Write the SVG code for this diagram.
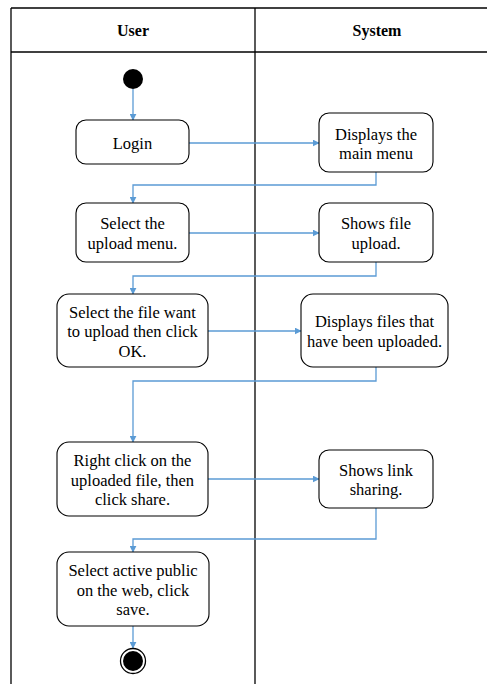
<svg xmlns="http://www.w3.org/2000/svg" width="487" height="684" viewBox="0 0 487 684">
<defs>
<style>
.lane{stroke:#000;stroke-width:1.3;fill:none}
.hdr{font-family:'Liberation Serif','Times New Roman',serif;font-weight:bold;font-size:16px;text-anchor:middle;fill:#000}
.box{fill:#fff;stroke:#000;stroke-width:1.1}
.t{font-family:'Liberation Serif','Times New Roman',serif;font-size:16.5px;text-anchor:middle;fill:#000}
.c{stroke:#5B9BD5;stroke-width:1.3;fill:none;marker-end:url(#ah)}
</style>
<marker id="ah" viewBox="0 0 10 10" refX="9" refY="5" markerWidth="7" markerHeight="7" markerUnits="userSpaceOnUse" orient="auto">
<path d="M0,0 L10,5 L0,10 z" fill="#5B9BD5"/>
</marker>
</defs>
<rect width="487" height="684" fill="#fff"/>
<g id="swimlanes">
<line class="lane" x1="11" y1="8" x2="487" y2="8"/>
<line class="lane" x1="11" y1="52" x2="487" y2="52" stroke="#444"/>
<line class="lane" x1="11" y1="8" x2="11" y2="684"/>
<line class="lane" x1="255" y1="8" x2="255" y2="684"/>
<text class="hdr" x="133" y="35.5">User</text>
<text class="hdr" x="377" y="35.5">System</text>
</g>
<g id="connectors">
<line class="c" x1="133" y1="89" x2="133" y2="120"/>
<line class="c" x1="189" y1="143" x2="319" y2="143"/>
<polyline class="c" points="376,172 376,185 133,185 133,203"/>
<line class="c" x1="189" y1="233" x2="319" y2="233"/>
<polyline class="c" points="376,262 376,276 133,276 133,294"/>
<line class="c" x1="208" y1="331" x2="301" y2="331"/>
<polyline class="c" points="376,367 376,381 133,381 133,442"/>
<line class="c" x1="208" y1="479" x2="319" y2="479"/>
<polyline class="c" points="376,508 376,539 133,539 133,552"/>
<line class="c" x1="133" y1="626" x2="133" y2="648"/>
</g>
<g id="start"><circle cx="133" cy="79" r="10" fill="#000"/></g>
<g id="login"><rect class="box" x="76" y="120" width="113" height="44" rx="10"/><text class="t" x="132.5" y="148.5">Login</text></g>
<g id="displays-menu"><rect class="box" x="319" y="113" width="114" height="59" rx="10"/><text class="t" x="376" y="139.5">Displays the</text><text class="t" x="376" y="158.5">main menu</text></g>
<g id="select-upload"><rect class="box" x="76" y="203" width="113" height="59" rx="10"/><text class="t" x="132.5" y="228.5">Select the</text><text class="t" x="132.5" y="248.5">upload menu.</text></g>
<g id="shows-upload"><rect class="box" x="319" y="203" width="114" height="59" rx="10"/><text class="t" x="376" y="228.5">Shows file</text><text class="t" x="376" y="248.5">upload.</text></g>
<g id="select-file"><rect class="box" x="57" y="294" width="151" height="73" rx="12"/><text class="t" x="132.5" y="317.5">Select the file want</text><text class="t" x="132.5" y="336.5">to upload then click</text><text class="t" x="132.5" y="356.5">OK.</text></g>
<g id="displays-files"><rect class="box" x="301" y="294" width="147" height="73" rx="12"/><text class="t" x="374.5" y="326.5">Displays files that</text><text class="t" x="374.5" y="346.5">have been uploaded.</text></g>
<g id="right-click"><rect class="box" x="57" y="442" width="151" height="74" rx="12"/><text class="t" x="132.5" y="465.5">Right click on the</text><text class="t" x="132.5" y="485.5">uploaded file, then</text><text class="t" x="132.5" y="504.5">click share.</text></g>
<g id="shows-link"><rect class="box" x="319" y="450" width="114" height="58" rx="10"/><text class="t" x="376" y="475.5">Shows link</text><text class="t" x="376" y="494.5">sharing.</text></g>
<g id="select-active"><rect class="box" x="57" y="552" width="152" height="74" rx="12"/><text class="t" x="133" y="575.5">Select active public</text><text class="t" x="133" y="595.5">on the web, click</text><text class="t" x="133" y="614.5">save.</text></g>
<g id="end"><circle cx="133" cy="661" r="12.5" fill="#fff" stroke="#000" stroke-width="1.3"/><circle cx="133" cy="661" r="10" fill="#000"/></g>
</svg>
